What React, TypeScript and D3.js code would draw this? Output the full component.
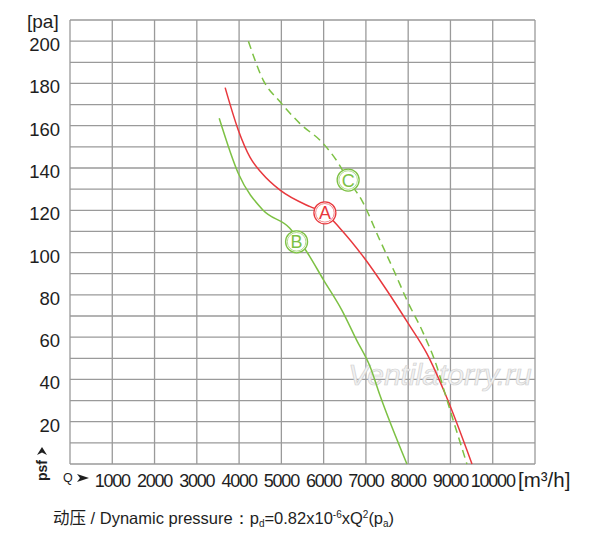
import React, { useRef, useEffect } from "react";
import * as d3 from "d3";

// Curve A (red, solid)
const qA = [3670, 3980, 4260, 4540, 4970, 5680, 6030, 6390, 6940, 7490, 8000, 8440, 8880, 9510];
const pA = [178, 158, 145, 137.5, 129.5, 121.7, 118.8, 111.4, 98, 82.3, 66.5, 52.3, 33, 0];
// Curve B (green, solid)
const qB = [3530, 3980, 4570, 5200, 5600, 6000, 6430, 6780, 7100, 7330, 7970];
const pB = [163.5, 137.5, 120, 111.5, 100.4, 87, 72.8, 58.6, 46, 32.6, 0];
// Curve C (green, dashed)
const qC = [4220, 4570, 4970, 5440, 5990, 6350, 6580, 6900, 7330, 7690, 7970, 8360, 8680, 8870, 9390];
const pC = [200, 181.6, 171.3, 161, 151.6, 142.2, 134.3, 124.8, 105.9, 90.2, 77.5, 61.8, 46, 33.4, 0];

const curveNames = ["A", "B", "C"];
const labelQ = [6030, 5360, 6580];
const labelP = [118.8, 105.1, 134.3];

const xTicks = [1000, 2000, 3000, 4000, 5000, 6000, 7000, 8000, 9000, 10000];
const yTicks = [20, 40, 60, 80, 100, 120, 140, 160, 180, 200];

const RED = "#e8383d";
const GREEN = "#7dc144";
const GRID = "#9a9a9a";
const INK = "#1e1e1e";
const FONT = "'Liberation Sans', Arial, Helvetica, sans-serif";

const App = () => {
  const svgRef = useRef(null);

  useEffect(() => {
    const svg = d3.select(svgRef.current);
    svg.selectAll("*").remove();

    const x = d3.scaleLinear().domain([0, 11000]).range([70, 535]);
    const y = d3.scaleLinear().domain([0, 210]).range([464, 20]);

    // grid
    const grid = svg.append("g").attr("stroke", GRID).attr("stroke-width", 1.3);
    grid.selectAll("line.v")
      .data(d3.range(0, 11001, 1000))
      .enter().append("line")
      .attr("x1", (d) => x(d)).attr("x2", (d) => x(d))
      .attr("y1", y(0)).attr("y2", y(210));
    grid.selectAll("line.h")
      .data(d3.range(0, 211, 10))
      .enter().append("line")
      .attr("y1", (d) => y(d)).attr("y2", (d) => y(d))
      .attr("x1", x(0)).attr("x2", x(11000));

    // watermark
    svg.append("text")
      .attr("x", 440).attr("y", 385)
      .attr("text-anchor", "middle")
      .style("font-family", FONT)
      .style("font-style", "italic")
      .style("font-size", "30px")
      .attr("fill", "#f2f2f2")
      .attr("stroke", "#d0d0d0")
      .attr("stroke-width", 0.7)
      .text("Ventilatorry.ru");

    // curves
    const line = d3.line<[number, number]>()
      .x((d) => x(d[0])).y((d) => y(d[1]))
      .curve(d3.curveMonotoneX);

    const series = [
      { q: qA, p: pA, color: RED, dash: null },
      { q: qB, p: pB, color: GREEN, dash: null },
      { q: qC, p: pC, color: GREEN, dash: "8,5" },
    ];
    series.forEach((s) => {
      svg.append("path")
        .datum(s.q.map((q, i) => [q, s.p[i]] as [number, number]))
        .attr("d", line)
        .attr("fill", "none")
        .attr("stroke", s.color)
        .attr("stroke-width", 1.5)
        .attr("stroke-dasharray", s.dash);
    });

    // curve labels
    curveNames.forEach((name, i) => {
      const color = i === 0 ? RED : GREEN;
      const g = svg.append("g").attr("transform", `translate(${x(labelQ[i])}, ${y(labelP[i])})`);
      g.append("circle").attr("r", 11).attr("fill", "white").attr("stroke", color).attr("stroke-width", 1.3);
      g.append("circle").attr("r", 9.3).attr("fill", "none").attr("stroke", color).attr("stroke-width", 0.6);
      g.append("text")
        .attr("text-anchor", "middle").attr("y", 6.5)
        .style("font-family", FONT).style("font-size", "18px")
        .attr("fill", color).text(name);
    });

    // y labels
    svg.selectAll("text.ytick")
      .data(yTicks)
      .enter().append("text")
      .attr("x", 60).attr("y", (d) => y(d) + 10)
      .attr("text-anchor", "end")
      .style("font-family", FONT).style("font-size", "18.5px")
      .attr("fill", INK)
      .text((d) => d);

    svg.append("text")
      .attr("x", 27).attr("y", 28)
      .style("font-family", FONT).style("font-size", "19px")
      .attr("fill", INK).text("[pa]");

    // x labels
    svg.selectAll("text.xtick")
      .data(xTicks)
      .enter().append("text")
      .attr("x", (d) => x(d)).attr("y", 487)
      .attr("text-anchor", "middle")
      .style("font-family", FONT).style("font-size", "18px")
      .style("letter-spacing", "-1.2px")
      .attr("fill", INK)
      .text((d) => d);

    svg.append("text")
      .attr("x", 63).attr("y", 482)
      .style("font-family", FONT).style("font-size", "12.5px")
      .attr("fill", INK).text("Q");
    svg.append("path")
      .attr("d", "M77,474 L89,478 L77,482 L80,478 Z")
      .attr("fill", INK);

    svg.append("text")
      .attr("x", 518).attr("y", 487)
      .style("font-family", FONT).style("font-size", "20.5px")
      .attr("fill", INK).text("[m³/h]");

    // rotated psf label
    svg.append("text")
      .attr("transform", "translate(46.5, 481) rotate(-90)")
      .style("font-family", FONT).style("font-size", "14px")
      .style("font-weight", "bold")
      .attr("fill", INK)
      .text("psf");
    svg.append("path")
      .attr("d", "M42,447 L47,455 L42,452.5 L37,455 Z")
      .attr("fill", INK);

    // formula line
    const f = svg.append("text")
      .attr("x", 53).attr("y", 524)
      .style("font-family", FONT).style("font-size", "16.5px")
      .attr("fill", INK);
    f.append("tspan").style("font-family", "'Noto Sans CJK SC', sans-serif").text("动压");
    f.append("tspan").text(" / Dynamic pressure：p");
    f.append("tspan").attr("dy", 3).style("font-size", "10px").text("d");
    f.append("tspan").attr("dy", -3).text("=0.82x10");
    f.append("tspan").attr("dy", -6).style("font-size", "10px").text("-6");
    f.append("tspan").attr("dy", 6).text("xQ");
    f.append("tspan").attr("dy", -6).style("font-size", "10px").text("2");
    f.append("tspan").attr("dy", 6).text("(p");
    f.append("tspan").attr("dy", 3).style("font-size", "10px").text("a");
    f.append("tspan").attr("dy", -3).text(")");
  }, []);

  return (
    <svg
      ref={svgRef}
      width={600}
      height={548}
      style={{ position: "absolute", left: 0, top: 0, background: "white" }}
    />
  );
};

export default App;
